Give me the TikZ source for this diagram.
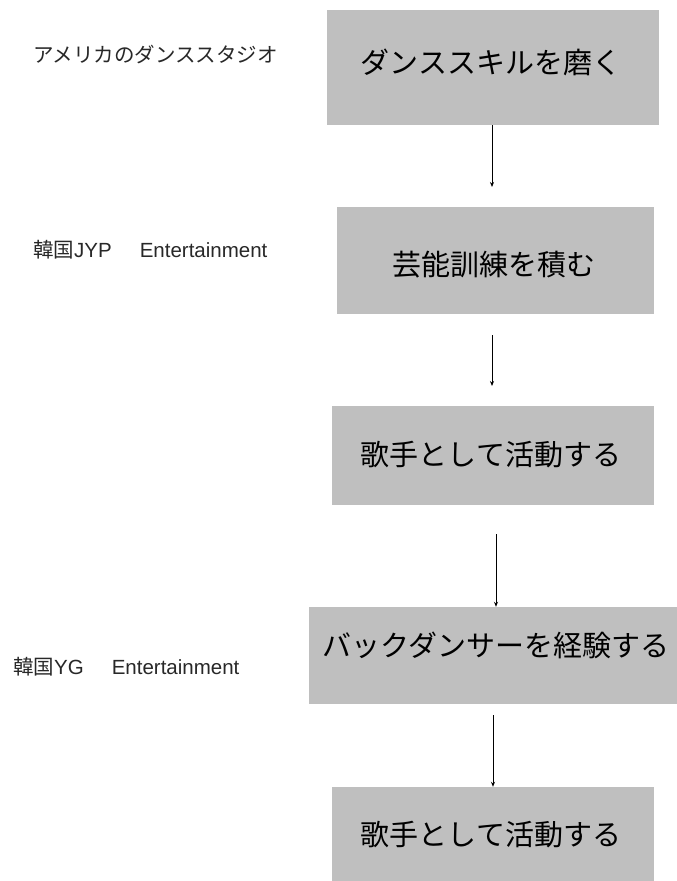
\documentclass[tikz,border=0pt]{standalone}
\usepackage{fontspec}
\setmainfont{Liberation Sans}
\newfontfamily\cjk{Noto Sans CJK JP}
\usetikzlibrary{arrows.meta}
\definecolor{boxgray}{RGB}{191,191,191}
\definecolor{labelgray}{RGB}{40,40,40}
\tikzset{
  stepbox/.style={fill=boxgray, draw=none, inner sep=0pt},
  boxtext/.style={inner sep=0pt, font=\cjk\fontsize{29}{32}\selectfont, text=black},
  sidelabel/.style={inner sep=0pt, anchor=west, font=\fontsize{20.5}{24}\selectfont, text=labelgray},
  arr/.style={draw=black, line width=0.8pt, -{Stealth[length=5pt,width=4pt]}}
}
\begin{document}
\begin{tikzpicture}[x=1pt,y=-1pt]
\useasboundingbox (0,0) rectangle (677,881);
% boxes
\node[stepbox, minimum width=332, minimum height=115] (b1) at (493,67.5) {};
\node[stepbox, minimum width=317, minimum height=107] (b2) at (495.5,260.5) {};
\node[stepbox, minimum width=322, minimum height=99] (b3) at (493,455.5) {};
\node[stepbox, minimum width=368, minimum height=97] (b4) at (493,655.5) {};
\node[stepbox, minimum width=322, minimum height=97] (b5) at (493,835.5) {};
% box texts
\node[boxtext] (t1) at (491,62) {ダンススキルを磨く};
\node[boxtext] (t2) at (494,265) {芸能訓練を積む};
\node[boxtext] (t3) at (491,455) {歌手として活動する};
\node[boxtext] (t4) at (496,645) {バックダンサーを経験する};
\node[boxtext] (t5) at (491,835) {歌手として活動する};
% side labels
\node[sidelabel] (l1) at (33,55) {{\cjk アメリカのダンススタジオ}};
\node[sidelabel] (l2) at (33,250) {{\cjk 韓国}JYP\hspace{28pt}Entertainment};
\node[sidelabel] (l3) at (13,667) {{\cjk 韓国}YG\hspace{28pt}Entertainment};
% arrows
\coordinate (a1) at (492,125);
\coordinate (e1) at (492,187);
\coordinate (a2) at (492,335);
\coordinate (e2) at (492,386);
\coordinate (a3) at (496,534);
\coordinate (a4) at (493,715);
\draw[arr] (a1) -- (e1);
\draw[arr] (a2) -- (e2);
\draw[arr] (a3) -- (a3 |- b4.north);
\draw[arr] (a4) -- (a4 |- b5.north);
\end{tikzpicture}
\end{document}
